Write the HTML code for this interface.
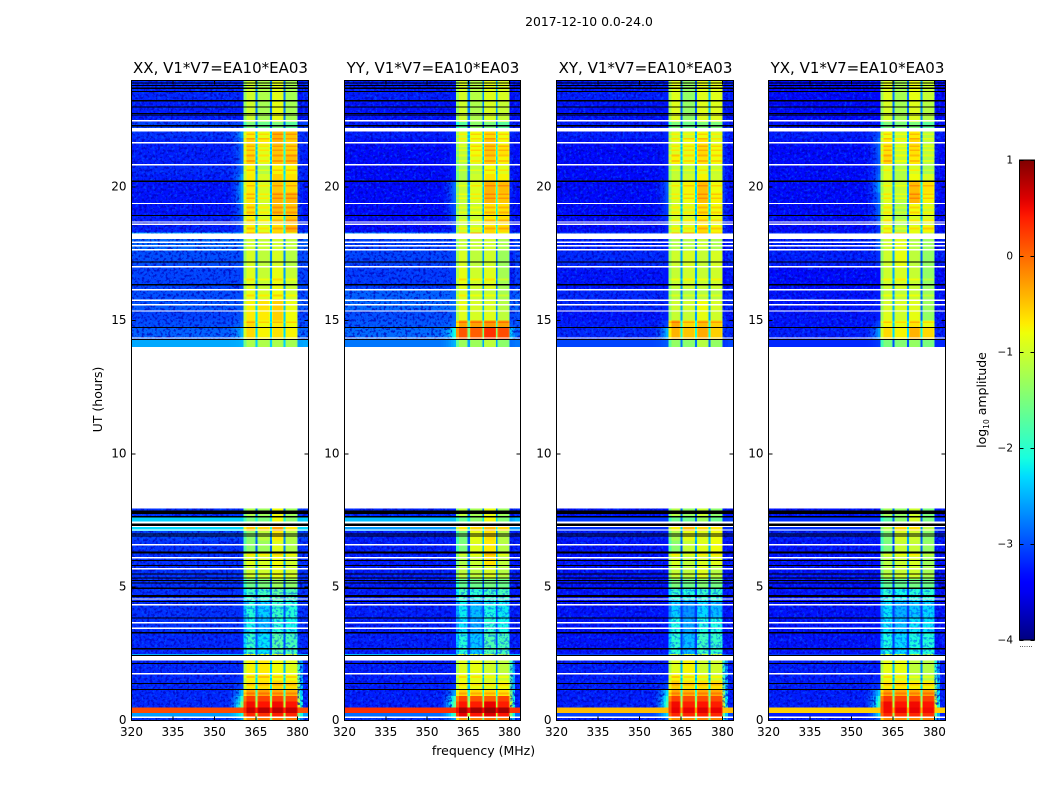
<!DOCTYPE html>
<html>
<head>
<meta charset="utf-8">
<title>2017-12-10 spectrogram</title>
<style>
html,body{margin:0;padding:0;background:#fff;}
svg{display:block;}
text{font-family:"DejaVu Sans","Liberation Sans",sans-serif;fill:#000;}
</style>
</head>
<body>
<svg id="fig" xmlns="http://www.w3.org/2000/svg" width="1050" height="800" viewBox="0 0 1050 800">
  <defs>
    <filter id="grainLight" x="0" y="0" width="100%" height="100%" color-interpolation-filters="sRGB">
      <feTurbulence type="fractalNoise" baseFrequency="0.36 0.38" numOctaves="2" seed="4"/>
      <feColorMatrix type="matrix" values="0 0 0 0 0  0 0 0 0 0.4  0 0 0 0 1  5 0 0 0 -2.6"/>
    </filter>
    <filter id="grainDark" x="0" y="0" width="100%" height="100%" color-interpolation-filters="sRGB">
      <feTurbulence type="fractalNoise" baseFrequency="0.38 0.36" numOctaves="2" seed="11"/>
      <feColorMatrix type="matrix" values="0 0 0 0 0  0 0 0 0 0  0 0 0 0 0.72  5 0 0 0 -2.45"/>
    </filter>
    <filter id="grainBand" x="0" y="0" width="100%" height="100%" color-interpolation-filters="sRGB">
      <feTurbulence type="fractalNoise" baseFrequency="0.36 0.4" numOctaves="2" seed="23"/>
      <feColorMatrix type="matrix" values="0 0 0 0 0  0 0 0 0 0.3  0 0 0 0 1  6 0 0 0 -2.9"/>
    </filter>
    <linearGradient id="jetGradient" x1="0" y1="1" x2="0" y2="0"></linearGradient>
  </defs>
  <rect x="0" y="0" width="1050" height="800" fill="#fff"/>
  <text x="589" y="26" font-size="12.4" text-anchor="middle">2017-12-10 0.0-24.0</text>
  <text x="483.5" y="755" font-size="12.5" text-anchor="middle">frequency (MHz)</text>
  <text x="0" y="0" font-size="12.5" text-anchor="middle" transform="translate(102,399.5) rotate(-90)">UT (hours)</text>
  <text x="0" y="0" font-size="12.5" text-anchor="middle" transform="translate(986,400) rotate(-90)">log<tspan font-size="7.5" dy="3">10</tspan><tspan dy="-3"> amplitude</tspan></text>
  <g id="panels"></g>
  <g id="colorbar"></g>
</svg>
<script>
// ---- axis categories and tick labels ----
const panelTitles = ["XX, V1*V7=EA10*EA03", "YY, V1*V7=EA10*EA03", "XY, V1*V7=EA10*EA03", "YX, V1*V7=EA10*EA03"];
const freqTicks = [320, 335, 350, 365, 380];
const hourTicks = [0, 5, 10, 15, 20];
const colorbarTicks = [-4, -3, -2, -1, 0, 1];
const freqRange = [320, 384];
const hourRange = [0, 24];
const valueRange = [-4, 1];

// ---- time segments (UT hours) of the dynamic spectrum ----
const segmentStarts = [0,0.14,0.29,0.49,0.72,0.92,1.18,1.5,1.8,2.25,2.5,3.3,3.85,4.5,4.95,5.3,5.8,6.3,6.75,7.1,7.3,7.65,
  14,14.28,14.75,15,15.4,15.8,16.2,17,17.6,18.05,18.3,18.55,18.95,19.4,19.8,20.2,20.5,20.85,21.2,21.6,21.85,22.1,22.45,23.2];
const segmentEnds = [0.14,0.29,0.49,0.72,0.92,1.18,1.5,1.8,2.25,2.5,3.3,3.85,4.5,4.95,5.3,5.8,6.3,6.75,7.1,7.3,7.65,7.95,
  14.28,14.75,15,15.4,15.8,16.2,17,17.6,18.05,18.3,18.55,18.95,19.4,19.8,20.2,20.5,20.85,21.2,21.6,21.85,22.1,22.45,23.2,24];
// band-level correction per segment
const segmentBandShift = [0,0,0,0,-0.1,-0.35,-0.35,-0.1,0,0,-0.25,-0.25,-0.25,-0.2,-0.1,0,0,0,0,0,0,0,
  0,0,0,0,0,0,0,0,0,0,-0.15,-0.2,-0.2,-0.2,-0.2,-0.2,-0.2,-0.2,-0.2,-0.2,-0.1,0,-0.05,-0.05];

// ---- frequency bands (MHz) ----
const bandLows = [360.5, 365.6, 370.8, 375.6];
const bandHighs = [364.8, 370.1, 375, 380];
const rampWeights = [0.06, 0.16, 0.3, 0.5, 0.75, 1];
const rampStart = 355;
const backgroundShift = -0.14;

// ---- bright single-integration stripes inside the bands (UT hours) ----
const stripeHours = [0.98,1.32,1.6,5.45,6.18,14.9,15.9,16.5,18.42,18.72,19.02,19.2,19.55,19.7,20.02,20.6,20.95,21.15,21.35,21.5,21.78,21.95];

// ---- log10 amplitude per segment: background, ramp edge, four bands, tail above 380 MHz ----
const rowsXX = [
[-3.0,-2.6,-0.2,-0.1,-0.1,-0.1,-2.2],
[-2.6,-2.1,0.35,0.3,0.4,0.35,-1.6],
[0.15,0.15,0.7,0.75,0.75,0.7,0.1],
[-3.05,-1.5,0.5,0.45,0.5,0.45,-1.0],
[-3.05,-1.9,0.35,0.3,0.3,0.25,-1.2],
[-3.05,-2.4,0.05,0.05,0,-0.05,-1.5],
[-3.05,-2.9,-0.35,-0.3,-0.25,-0.3,-1.6],
[-3.05,-3,-0.65,-0.6,-0.7,-0.7,-1.8],
[-3.05,-3,-0.75,-0.7,-0.8,-0.9,-1.9],
[-2.5,-2.5,-0.8,-0.95,-0.9,-1,-2.5],
[-3.05,-3.05,-1.7,-2,-1.5,-1.6,-3],
[-3,-3,-1.9,-2.2,-1.8,-1.9,-3],
[-3,-3,-1.8,-2.1,-1.7,-1.8,-3],
[-3,-3,-1.7,-1.7,-1.5,-1.6,-3],
[-3,-3,-1.5,-1.4,-1.2,-1.3,-3],
[-3,-3,-1,-1,-0.85,-1,-3],
[-3,-3,-0.9,-0.95,-0.8,-1,-3],
[-3,-3,-1.4,-1.3,-0.9,-1.2,-3],
[-2.9,-2.9,-1.4,-1.1,-0.7,-1.15,-2.9],
[-2.3,-2.3,-0.5,-0.6,-0.3,-0.7,-2.3],
[-2.35,-2.35,-1.5,-1.5,-0.8,-1.4,-2.4],
[-3,-3,-1.2,-1.3,-0.8,-1.3,-3],
[-2.55,-2.5,-1.2,-1.2,-1.2,-1.25,-2.6],
[-2.75,-2.5,-0.6,-0.75,-0.65,-0.75,-2.7],
[-2.85,-2.7,-0.6,-0.8,-0.7,-0.8,-2.8],
[-2.9,-2.8,-0.7,-0.7,-0.55,-0.8,-2.9],
[-2.8,-2.8,-0.75,-0.65,-0.55,-0.85,-2.8],
[-2.85,-2.85,-0.85,-0.95,-0.8,-1,-2.9],
[-2.9,-2.9,-0.9,-1.05,-0.85,-1.05,-2.9],
[-2.85,-2.85,-0.95,-1.1,-0.95,-1.15,-2.9],
[-2.7,-2.7,-1,-1.05,-1,-1.1,-2.8],
[-2.45,-2.45,-0.35,-0.45,-0.55,-0.85,-2.7],
[-3.1,-2.9,-0.55,-0.75,-0.45,-0.25,-3],
[-3.1,-2.8,-0.55,-0.75,-0.45,-0.3,-3],
[-3.15,-2.7,-0.45,-0.75,-0.25,-0.3,-3],
[-3.15,-2.6,-0.45,-0.75,-0.2,-0.2,-3],
[-3.15,-2.55,-0.5,-0.75,-0.3,-0.4,-3],
[-3.1,-2.6,-0.5,-0.75,-0.35,-0.45,-3],
[-3.05,-2.7,-0.55,-0.95,-0.55,-0.55,-3],
[-3.1,-2.7,-0.35,-0.7,-0.3,-0.25,-3],
[-3.1,-2.7,-0.4,-0.7,-0.3,-0.35,-3],
[-3.05,-2.65,-0.35,-0.5,-0.2,-0.35,-3],
[-3.0,-2.6,-0.6,-0.75,-0.3,-0.4,-3],
[-2.9,-2.9,-1.5,-1.6,-1.5,-1.7,-3],
[-3.1,-3.1,-0.95,-1.2,-0.8,-1.2,-3.2],
[-3.05,-3.05,-0.95,-1.15,-0.85,-1.2,-3.2]
];
const rowsYY = [
[-3.0,-2.6,-0.25,-0.15,-0.05,-0.1,-2.2],
[-2.7,-1.9,0.55,0.45,0.6,0.45,-1.5],
[0.3,0.3,0.85,0.85,0.9,0.85,0.25],
[-3.1,-1.6,0.45,0.4,0.55,0.4,-1],
[-3.1,-1.9,0.3,0.2,0.15,0.3,-1.1],
[-3.1,-2.6,-0.2,-0.25,-0.25,-0.3,-1.4],
[-3.1,-3,-0.45,-0.5,-0.55,-0.45,-1.7],
[-3.1,-3.1,-0.75,-0.8,-0.9,-0.95,-1.8],
[-3.1,-3.1,-0.9,-0.85,-1,-1.1,-1.9],
[-2.45,-2.45,-0.95,-1,-1,-1.1,-2.5],
[-3.1,-3.1,-1.8,-2.15,-1.55,-1.6,-3.1],
[-3.1,-3.1,-2,-2.3,-1.75,-1.9,-3.1],
[-3.1,-3.1,-1.95,-2.2,-1.85,-1.95,-3.1],
[-3.1,-3.1,-1.65,-1.8,-1.7,-1.65,-3.1],
[-3.1,-3.1,-1.55,-1.5,-1.45,-1.5,-3.1],
[-3.1,-3.1,-1.1,-1.1,-0.95,-1.15,-3.1],
[-3.1,-3.1,-1.2,-1.05,-0.65,-1.1,-3.1],
[-3.1,-3.1,-1.5,-0.9,-0.7,-1.15,-3.1],
[-3.1,-3.1,-1.5,-0.85,-0.65,-1.15,-3.1],
[-2.6,-2.6,-0.7,-0.6,-0.45,-0.6,-2.6],
[-2.45,-2.45,-1.6,-1.4,-0.8,-1.45,-2.6],
[-3.05,-3.05,-1.1,-1.25,-0.85,-1.3,-3.1],
[-2.65,-2.5,-1.3,-1.3,-1.1,-1.4,-2.7],
[-2.7,-2.1,0.1,0.05,0.3,0.15,-2.4],
[-2.8,-2.7,-0.3,-0.3,-0.25,-0.3,-2.8],
[-2.85,-2.8,-0.9,-0.95,-0.9,-1.1,-2.9],
[-2.7,-2.7,-0.85,-0.95,-0.95,-1.15,-2.8],
[-2.75,-2.75,-0.95,-1.05,-1.05,-1.25,-2.9],
[-2.95,-2.95,-0.85,-1,-0.9,-1.25,-3.1],
[-2.9,-2.9,-0.95,-1.1,-1,-1.3,-3.1],
[-2.9,-2.9,-1.05,-1.05,-1,-1.2,-3.1],
[-2.6,-2.6,-0.6,-0.35,-0.6,-0.85,-2.9],
[-3.2,-3,-0.85,-0.85,-0.45,-0.45,-3.1],
[-3.2,-2.9,-0.9,-0.85,-0.5,-0.45,-3.1],
[-3.2,-2.85,-0.9,-0.85,-0.45,-0.45,-3.1],
[-3.2,-2.75,-0.85,-0.75,-0.2,-0.3,-3.1],
[-3.2,-2.7,-0.85,-0.7,-0.2,-0.25,-3.1],
[-3.2,-3.1,-1,-0.8,-0.45,-0.55,-3.1],
[-3.2,-3.1,-1,-0.9,-0.6,-0.7,-3.1],
[-3.2,-3.1,-0.95,-0.7,-0.35,-0.55,-3.1],
[-3.2,-3.1,-0.9,-0.6,-0.3,-0.45,-3.1],
[-3.15,-3.1,-0.75,-0.65,-0.3,-0.6,-3.1],
[-3.1,-3.05,-0.85,-0.7,-0.5,-0.7,-3.1],
[-3.1,-3.1,-1.7,-1.4,-1.5,-1.7,-3.1],
[-3.15,-3.15,-0.95,-1.15,-0.9,-1,-3.2],
[-3.1,-3.1,-0.9,-1.1,-0.85,-0.9,-3.2]
];
const rowsXY = [
[-3.1,-2.7,-0.2,-0.2,-0.15,-0.15,-2.2],
[-2.9,-2.3,0.35,0.35,0.4,0.35,-1.7],
[-0.45,-0.45,0.55,0.55,0.6,0.55,-0.5],
[-3.1,-1.8,0.5,0.4,0.45,0.4,-1],
[-3.1,-2,0.3,0.25,0.25,0.25,-1.2],
[-3.1,-2.3,0,-0.05,0,0,-1.4],
[-3.1,-2.9,-0.2,-0.3,-0.3,-0.3,-1.7],
[-3.1,-3.1,-0.65,-0.75,-0.85,-0.9,-1.9],
[-3.1,-3.1,-0.9,-0.75,-1,-1,-2],
[-2.9,-2.9,-1,-1,-1,-1,-2.7],
[-3.15,-3.15,-1.75,-2.2,-1.65,-1.7,-3.15],
[-3.15,-3.15,-1.85,-2.3,-1.85,-1.85,-3.15],
[-3.15,-3.15,-2.1,-2.4,-2.05,-2.2,-3.15],
[-3.15,-3.15,-1.75,-1.85,-1.75,-1.75,-3.15],
[-3.15,-3.15,-1.4,-1.5,-1.35,-1.45,-3.15],
[-3.15,-3.15,-1.05,-1.1,-0.9,-1.15,-3.15],
[-3.15,-3.15,-0.95,-1.1,-0.95,-0.9,-3.15],
[-3.15,-3.15,-1.4,-1.05,-0.9,-0.8,-3.15],
[-3.1,-3.1,-1.2,-0.85,-0.9,-0.8,-3.1],
[-3,-3,-0.75,-0.45,-0.6,-0.7,-3],
[-2.95,-2.95,-1.6,-1.6,-1.3,-1.6,-3],
[-3.15,-3.15,-1.15,-1.35,-1.05,-1.4,-3.15],
[-2.9,-2.8,-1.35,-1.4,-1.15,-1.35,-3],
[-3.05,-2.5,-0.4,-0.5,-0.35,-0.55,-3],
[-3.1,-2.9,-0.35,-0.6,-0.45,-0.55,-3],
[-3.15,-3.1,-1.05,-1.05,-0.85,-1,-3.1],
[-3.05,-3.05,-1,-1,-0.8,-0.95,-3.1],
[-3.05,-3.05,-1.15,-1.2,-1.15,-1.15,-3.1],
[-3.15,-3.15,-1.05,-1,-1.05,-1,-3.2],
[-3.05,-3.05,-1,-0.95,-1.05,-0.95,-3.2],
[-3.1,-3.1,-1.15,-1.15,-1.05,-1.2,-3.2],
[-2.85,-2.85,-0.5,-0.3,-0.45,-0.55,-3.1],
[-3.2,-3.1,-0.8,-0.75,-0.45,-0.6,-3],
[-3.2,-3,-0.8,-0.75,-0.5,-0.65,-3],
[-3.2,-2.95,-0.75,-0.75,-0.45,-0.6,-3],
[-3.2,-2.85,-0.75,-0.6,-0.25,-0.55,-3],
[-3.2,-2.8,-0.7,-0.55,-0.25,-0.6,-3],
[-3.2,-3.1,-0.85,-0.8,-0.55,-0.8,-3],
[-3.2,-3.1,-0.9,-0.9,-0.7,-0.85,-3],
[-3.2,-3.1,-0.55,-0.65,-0.45,-0.6,-3],
[-3.2,-3.1,-0.7,-0.65,-0.4,-0.6,-3],
[-3.15,-3.1,-0.7,-0.6,-0.45,-0.7,-3],
[-3.1,-3.05,-0.85,-0.9,-0.7,-0.85,-3],
[-3.1,-3.1,-1.5,-1.6,-1.5,-1.5,-3.1],
[-3.15,-3.15,-0.85,-1.3,-0.85,-0.85,-3.1],
[-3.1,-3.1,-0.85,-1.3,-0.85,-0.85,-3.1]
];
const rowsYX = [
[-3.1,-2.7,-0.2,-0.2,-0.2,-0.15,-2.2],
[-3.1,-2.3,0.35,0.3,0.35,0.3,-1.8],
[-0.55,-0.55,0.5,0.55,0.55,0.5,-0.55],
[-3.1,-1.8,0.5,0.45,0.5,0.45,-1],
[-3.1,-2,0.35,0.3,0.3,0.3,-1.2],
[-3.1,-2.4,0.05,0,0,0.05,-1.4],
[-3.1,-3,-0.35,-0.35,-0.4,-0.4,-1.7],
[-3.1,-3.1,-0.75,-0.85,-1,-1.05,-2],
[-3.1,-3.1,-0.85,-0.85,-1.1,-1.15,-2.1],
[-2.95,-2.95,-0.95,-1.05,-1.15,-1.2,-2.7],
[-3.15,-3.15,-1.85,-2.05,-1.85,-1.8,-3.15],
[-3.15,-3.15,-2,-2.2,-2,-2,-3.15],
[-3.15,-3.15,-2,-2.25,-2.15,-2.05,-3.15],
[-3.15,-3.15,-1.8,-1.95,-1.85,-1.8,-3.15],
[-3.15,-3.15,-1.55,-1.55,-1.45,-1.5,-3.15],
[-3.15,-3.15,-1.15,-1.05,-1,-1.25,-3.15],
[-3.15,-3.15,-1.15,-1.05,-0.95,-1.3,-3.15],
[-3.15,-3.15,-1.5,-1.05,-1.05,-1.35,-3.15],
[-3.1,-3.1,-1.45,-0.95,-1,-1.4,-3.1],
[-3,-3,-1.1,-0.6,-0.65,-1.1,-3],
[-3,-3,-1.7,-1.4,-0.95,-1.5,-3],
[-3.15,-3.15,-1.25,-1.35,-1,-1.5,-3.15],
[-3.05,-2.95,-1.5,-1.45,-1.35,-1.5,-3.05],
[-3.1,-2.6,-0.6,-0.75,-0.4,-0.6,-3.05],
[-3.15,-2.9,-0.75,-0.85,-0.65,-0.85,-3.05],
[-3.15,-3.1,-0.9,-1,-0.85,-1.35,-3.15],
[-3.15,-3.1,-0.95,-0.95,-0.9,-1.3,-3.15],
[-3.15,-3.1,-1.05,-1.1,-1.05,-1.3,-3.15],
[-3.2,-3.2,-1,-0.95,-1.05,-1.35,-3.2],
[-3.1,-3,-1,-0.85,-1.1,-1.35,-3.2],
[-3.1,-2.8,-1,-0.9,-1.15,-1.3,-3.2],
[-3,-2.7,-0.5,-0.55,-0.85,-1.1,-3.1],
[-3.2,-3,-0.7,-1,-0.7,-0.6,-3.1],
[-3.2,-2.8,-0.7,-1.05,-0.75,-0.75,-3.1],
[-3.2,-2.75,-0.7,-1.05,-0.6,-0.8,-3.1],
[-3.2,-2.7,-0.7,-0.9,-0.2,-0.55,-3.1],
[-3.2,-2.6,-0.75,-0.85,-0.25,-0.45,-3.1],
[-3.2,-2.7,-0.7,-0.95,-0.6,-0.75,-3.1],
[-3.2,-2.8,-0.75,-1,-0.75,-1.05,-3.1],
[-3.2,-2.8,-0.4,-0.85,-0.5,-0.95,-3.1],
[-3.2,-2.75,-0.45,-0.85,-0.45,-0.9,-3.1],
[-3.15,-2.7,-0.5,-0.75,-0.4,-0.9,-3.1],
[-3.1,-2.85,-0.7,-0.95,-0.6,-1.05,-3.1],
[-3.15,-3.15,-1.5,-1.5,-1.5,-1.7,-3.2],
[-3.2,-3.2,-0.9,-1.2,-0.85,-1.1,-3.2],
[-3.2,-3.2,-0.85,-1.2,-0.8,-1,-3.2]
];
const panelRows = [rowsXX, rowsYY, rowsXY, rowsYX];

// ---- flagged time ranges (UT hours): no data (white) and near-zero amplitude (black) ----
const whiteStarts = [0.1,1.73,2.25,3.43,3.64,4.32,4.53,5.67,6.08,6.57,7.12,7.25,7.39,14.32,15.33,15.57,15.74,16.13,16.99,17.63,17.78,17.9,18.05,18.58,18.67,19.36,20.82,21.64,22.08,22.47];
const whiteEnds   = [0.15,1.78,2.41,3.48,3.69,4.37,4.58,5.72,6.13,6.62,7.17,7.3,7.47,14.37,15.38,15.62,15.79,16.18,17.04,17.68,17.83,17.97,18.27,18.63,18.72,19.41,20.87,21.69,22.22,22.52];
const blackStarts = [1.14,1.36,2.12,2.42,2.67,3.27,3.83,4.45,4.63,4.94,5.13,5.23,5.32,5.48,5.79,5.98,6.27,6.9,6.97,7.27,7.62,7.74,
  14.26,14.71,16.32,17.18,18.91,20.19,22.28,22.69,22.75,22.99,23.22,23.57,23.69,23.79,23.89];
const blackEnds   = [1.18,1.4,2.16,2.46,2.71,3.31,3.87,4.49,4.7,4.98,5.17,5.27,5.36,5.52,5.83,6.02,6.33,6.94,7.01,7.39,7.66,7.88,
  14.3,14.75,16.36,17.22,18.95,20.25,22.34,22.73,22.79,23.03,23.26,23.61,23.73,23.83,23.93];
const grainStarts = [0, 0.49, 2.5, 7.65, 14.28];
const grainEnds = [0.14, 2.25, 7.1, 7.95, 24];
const bandGrainStart = 2.45;
const bandGrainEnd = 4.95;

const SVGNS = "http://www.w3.org/2000/svg";
const panelLefts = [131.5, 344.5, 556.5, 768.5];
const panelWidths = [177, 176, 177, 177];
const plotTop = 80.5, plotBottom = 720.5;

function jetChannel(t, pts) {
  for (let i = 1; i < pts.length; i++) {
    if (t <= pts[i][0]) {
      const p = pts[i - 1], q = pts[i];
      return p[1] + (q[1] - p[1]) * (t - p[0]) / (q[0] - p[0]);
    }
  }
  return pts[pts.length - 1][1];
}
function jetColor(v) {
  const t = Math.max(0, Math.min(1, (v - valueRange[0]) / (valueRange[1] - valueRange[0])));
  const r = jetChannel(t, [[0,0],[0.35,0],[0.66,1],[0.89,1],[1,0.5]]);
  const g = jetChannel(t, [[0,0],[0.125,0],[0.375,1],[0.64,1],[0.91,0],[1,0]]);
  const b = jetChannel(t, [[0,0.5],[0.11,1],[0.34,1],[0.65,0],[1,0]]);
  return "rgb(" + Math.round(r * 255) + "," + Math.round(g * 255) + "," + Math.round(b * 255) + ")";
}
function yScale(h) {
  return plotBottom - (h - hourRange[0]) / (hourRange[1] - hourRange[0]) * (plotBottom - plotTop);
}
function xScaleFor(p) {
  return function (f) {
    return panelLefts[p] + (f - freqRange[0]) / (freqRange[1] - freqRange[0]) * panelWidths[p];
  };
}
function cbY(v) {
  return 640 - (v - valueRange[0]) / (valueRange[1] - valueRange[0]) * 480;
}
function addEl(parent, tag, attrs) {
  const el = document.createElementNS(SVGNS, tag);
  for (const k in attrs) el.setAttribute(k, attrs[k]);
  parent.appendChild(el);
  return el;
}
function cell(group, x, f0, f1, h0, h1, v) {
  const x0 = x(f0), x1 = x(f1), y0 = yScale(h1), y1 = yScale(h0);
  const el = addEl(group, "rect", { x: x0, y: y0, width: x1 - x0, height: y1 - y0, fill: jetColor(v), "shape-rendering": "crispEdges" });
  
  
}
function drawBands(group, x, row, shift, h0, h1, boost) {
  const bg = row[0] < -2.6 ? row[0] + backgroundShift : row[0];
  bandLows.forEach(function (lo, b) {
    const hi = bandHighs[b], s = row[2 + b] + shift + boost;
    const isFirst = b === 0;
    cell(group, x, lo, lo + (isFirst ? 1.1 : 0.35), h0, h1, s - (isFirst ? 0.35 : 0.15));
    cell(group, x, lo + (isFirst ? 1.1 : 0.35), hi - 0.35, h0, h1, s);
    cell(group, x, hi - 0.35, hi, h0, h1, s - 0.15);
    if (b < bandLows.length - 1) {
      const notch = Math.max(Math.min(s, row[3 + b] + shift + boost) - 1.55, bg + 0.2);
      cell(group, x, hi, bandLows[b + 1], h0, h1, notch);
    }
  });
}

const panelsRoot = document.getElementById("panels");
panelTitles.forEach(function (title, p) {
  const x = xScaleFor(p);
  const g = addEl(panelsRoot, "g", {});
  
  

  const cells = addEl(g, "g", {});
  
  

  const rows = panelRows[p];
  rows.forEach(function (row, i) {
    const h0 = segmentStarts[i], h1 = segmentEnds[i];
    const bg = row[0] < -2.6 ? row[0] + backgroundShift : row[0];
    const ramp = row[1] < -2.6 ? row[1] + backgroundShift : row[1];
    const tail = row[6] < -2.6 ? row[6] + backgroundShift : row[6];
    cell(cells, x, freqRange[0], rampStart, h0, h1, bg);
    const rampStep = (bandLows[0] - rampStart) / rampWeights.length;
    rampWeights.forEach(function (w, k) {
      cell(cells, x, rampStart + k * rampStep, rampStart + (k + 1) * rampStep, h0, h1, bg + (ramp - bg) * w);
    });
    drawBands(cells, x, row, segmentBandShift[i], h0, h1, 0);
    cell(cells, x, 380, 381, h0, h1, tail);
    cell(cells, x, 381, 382, h0, h1, (tail + bg) / 2);
    cell(cells, x, 382, freqRange[1], h0, h1, bg);
  });

  stripeHours.forEach(function (h) {
    const i = segmentStarts.findIndex(function (s, k) { return h >= s && h < segmentEnds[k]; });
    if (i >= 0) drawBands(cells, x, rows[i], segmentBandShift[i], h, h + 0.07, 0.25);
  });

  grainStarts.forEach(function (gs, i) {
    const y0 = yScale(grainEnds[i]), y1 = yScale(gs);
    ["grainLight", "grainDark"].forEach(function (f) {
      const op = f === "grainLight" ? 0.5 : 0.7;
      const a = addEl(g, "rect", { x: x(freqRange[0]), y: y0, width: x(359) - x(freqRange[0]), height: y1 - y0, filter: "url(#" + f + ")", opacity: op });
      
      
      const c = addEl(g, "rect", { x: x(380.2), y: y0, width: x(freqRange[1]) - x(380.2), height: y1 - y0, filter: "url(#" + f + ")", opacity: op });
      
      
    });
  });
  const bandGrain = addEl(g, "rect", { x: x(360.5), y: yScale(bandGrainEnd), width: x(380) - x(360.5), height: yScale(bandGrainStart) - yScale(bandGrainEnd), filter: "url(#grainBand)", opacity: 0.55 });
  
  

  function flagLine(h0, h1, color, name) {
    const y0 = yScale(h1), y1 = yScale(h0);
    const el = addEl(g, "rect", { x: panelLefts[p], y: y0, width: panelWidths[p], height: y1 - y0, fill: color, "shape-rendering": "crispEdges" });
    
    
  }
  blackStarts.forEach(function (h, i) { flagLine(h, blackEnds[i], "#000", "flagged-black-line"); });
  whiteStarts.forEach(function (h, i) { flagLine(h, whiteEnds[i], "#fff", "flagged-white-line"); });

  const frame = addEl(g, "rect", { x: panelLefts[p], y: plotTop, width: panelWidths[p], height: plotBottom - plotTop, fill: "none", stroke: "#000", "stroke-width": 1, "shape-rendering": "crispEdges" });
  
  

  freqTicks.forEach(function (f) {
    const px = x(f);
    const t1 = addEl(g, "line", { x1: px, x2: px, y1: plotBottom, y2: plotBottom - 4, stroke: "#000", "shape-rendering": "crispEdges" });
    
    
    const t2 = addEl(g, "line", { x1: px, x2: px, y1: plotTop, y2: plotTop + 4, stroke: "#000", "shape-rendering": "crispEdges" });
    
    
    const lbl = addEl(g, "text", { x: px, y: 736, "font-size": 12, "text-anchor": "middle" });
    
    
    lbl.textContent = f;
  });
  hourTicks.forEach(function (h) {
    const py = yScale(h);
    const left = panelLefts[p], right = left + panelWidths[p];
    const t1 = addEl(g, "line", { x1: left, x2: left + 4, y1: py, y2: py, stroke: "#000", "shape-rendering": "crispEdges" });
    
    
    const t2 = addEl(g, "line", { x1: right, x2: right - 4, y1: py, y2: py, stroke: "#000", "shape-rendering": "crispEdges" });
    
    
    const lbl = addEl(g, "text", { x: left - 5, y: py + 3.5, "font-size": 12, "text-anchor": "end" });
    
    
    lbl.textContent = h;
  });
  const tt = addEl(g, "text", { x: panelLefts[p] + panelWidths[p] / 2 + 0.5, y: 73, "font-size": 15, "text-anchor": "middle" });
  
  
  tt.textContent = title;
});

// ---- colorbar ----
const grad = document.getElementById("jetGradient");
for (let i = 0; i <= 50; i++) {
  const stop = addEl(grad, "stop", { offset: (i * 2) + "%", "stop-color": jetColor(valueRange[0] + (valueRange[1] - valueRange[0]) * i / 50) });
  
  
}
const cb = document.getElementById("colorbar");
const cbLeft = 1019.5, cbRight = 1034.5;
const ramp = addEl(cb, "rect", { x: cbLeft, y: cbY(valueRange[1]), width: cbRight - cbLeft, height: cbY(valueRange[0]) - cbY(valueRange[1]), fill: "url(#jetGradient)", stroke: "#000", "stroke-width": 1, "shape-rendering": "crispEdges" });


colorbarTicks.forEach(function (v) {
  const py = Math.round(cbY(v)) + 0.5;
  const t1 = addEl(cb, "line", { x1: cbLeft, x2: cbLeft + 4, y1: py, y2: py, stroke: "#000", "shape-rendering": "crispEdges" });
  
  
  const t2 = addEl(cb, "line", { x1: cbRight, x2: cbRight - 4, y1: py, y2: py, stroke: "#000", "shape-rendering": "crispEdges" });
  
  
  const lbl = addEl(cb, "text", { x: 1013, y: cbY(v) + 3.5, "font-size": 10.5, "text-anchor": "end" });
  
  
  lbl.textContent = String(v).replace("-", "\u2212");
});
const dots = addEl(cb, "text", { x: 1026, y: 647, "font-size": 7, "text-anchor": "middle", fill: "#777" });


dots.textContent = "......";
</script>
</body>
</html>
